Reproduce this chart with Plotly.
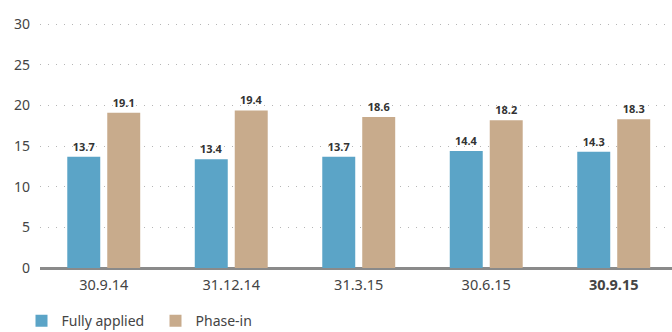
import plotly.graph_objects as go

categories = ["30.9.14", "31.12.14", "31.3.15", "30.6.15", "30.9.15"]
tick_labels = ["30.9.14", "31.12.14", "31.3.15", "30.6.15", "<b>30.9.15</b>"]
fully_applied = [13.7, 13.4, 13.7, 14.4, 14.3]
phase_in = [19.1, 19.4, 18.6, 18.2, 18.3]
y_ticks = [0, 5, 10, 15, 20, 25, 30]

BLUE = "#5BA4C7"
TAN = "#C8AB8C"
FONT = "Noto Sans"

fig = go.Figure()
for name, vals, col in [("Fully applied", fully_applied, BLUE), ("Phase-in", phase_in, TAN)]:
    fig.add_trace(go.Bar(
        x=list(range(len(categories))), y=vals, name=name,
        marker=dict(color=col, line=dict(width=0)),
        text=[f"{v:.1f}" for v in vals], textposition="outside",
        texttemplate="<b>%{text}</b>",
        textfont=dict(family=FONT, size=11, color="#333333"),
        cliponaxis=False,
    ))

fig.update_layout(
    width=672, height=332,
    margin=dict(l=40, r=0, t=21, b=64),
    paper_bgcolor="white", plot_bgcolor="white",
    barmode="group", bargap=0.373, bargroupgap=0.175,
    font=dict(family=FONT, color="#444444"),
    showlegend=True,
    legend=dict(orientation="h", x=0.032, xref="container", xanchor="left",
                y=0.033, yref="container", yanchor="middle",
                font=dict(family=FONT, size=14, color="#444444"),
                traceorder="normal", itemwidth=30, entrywidth=89, entrywidthmode="pixels"),
    xaxis=dict(
        tickmode="array", tickvals=list(range(len(categories))), ticktext=tick_labels,
        range=[-0.5, 4.457], showgrid=False, zeroline=False,
        showline=False, ticks="", tickfont=dict(family=FONT, size=14.5, color="#444444"),
        ticklabelstandoff=6,
    ),
    yaxis=dict(
        range=[0, 30.4], tickvals=y_ticks, showgrid=True, gridcolor="#B5B5B5",
        griddash="1px,7px", gridwidth=1.3, zeroline=True, zerolinecolor="#8A8A8A",
        zerolinewidth=3, showline=False, ticks="",
        tickfont=dict(family=FONT, size=14, color="#444444"), ticklabelstandoff=9,
    ),
)

fig.write_html("out.html")
